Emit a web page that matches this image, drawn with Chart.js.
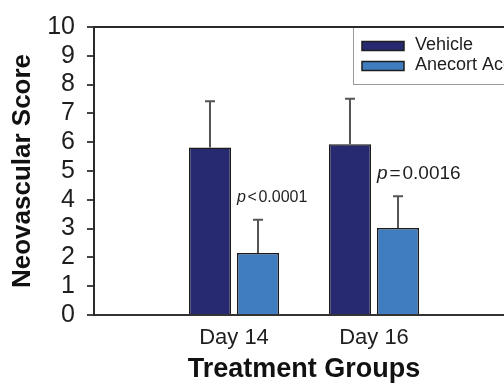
<!DOCTYPE html>
<html>
<head>
<meta charset="utf-8">
<script src="https://cdn.jsdelivr.net/npm/chart.js@4/dist/chart.umd.min.js"></script>
<style>
  html, body { margin: 0; padding: 0; background: #fff; overflow: hidden; }
  #wrap { width: 504px; height: 386px; overflow: hidden; }
  canvas { display: block; }
</style>
</head>
<body>
<div id="wrap"><canvas id="chart" width="530" height="386" style="width:530px;height:386px"></canvas></div>
<script>
// Groups on the x axis
const categories = ['Day 14', 'Day 16'];

// Mean neovascular scores and upper error (SD) per group
const vehicle = [5.82, 5.93];
const vehicleErr = [1.60, 1.58];
const anecort = [2.15, 3.02];
const anecortErr = [1.16, 1.10];

// Significance of Anecort vs Vehicle per group
const pOps = ['<', '='];
const pValues = ['0.0001', '0.0016'];
const pFontSizes = [16, 19];

// Y axis
const yTicks = [0, 1, 2, 3, 4, 5, 6, 7, 8, 9, 10];

const FONT = '"Liberation Sans", Arial, Helvetica, sans-serif';
Chart.defaults.font.family = FONT;
Chart.defaults.color = '#1e1e1e';

// blank slots on both sides of the two groups
const pad = arr => [null, ...arr, null];
const labels = ['', ...categories, ''];

const errorBars = {
  id: 'errorBars',
  afterDatasetsDraw(chart) {
    const ctx = chart.ctx;
    const y = chart.scales.y;
    ctx.save();
    chart.data.datasets.forEach((ds, di) => {
      const meta = chart.getDatasetMeta(di);
      meta.data.forEach((bar, i) => {
        const v = ds.data[i];
        const e = ds.errors[i];
        if (v == null || e == null) return;
        const top = y.getPixelForValue(v + e);
        ctx.strokeStyle = '#555';
        ctx.lineWidth = 2;
        ctx.beginPath();
        ctx.moveTo(bar.x, bar.y);
        ctx.lineTo(bar.x, top);
        ctx.moveTo(bar.x - 5, top);
        ctx.lineTo(bar.x + 5, top);
        ctx.stroke();
      });
    });
    ctx.restore();
  }
};

const pLabels = {
  id: 'pLabels',
  afterDatasetsDraw(chart) {
    const ctx = chart.ctx;
    const y = chart.scales.y;
    const ds = chart.data.datasets[1];
    const meta = chart.getDatasetMeta(1);
    ctx.save();
    ctx.fillStyle = '#1e1e1e';
    ctx.textBaseline = 'middle';
    ctx.textAlign = 'left';
    meta.data.forEach((bar, i) => {
      const k = i - 1;
      if (k < 0 || k >= pValues.length) return;
      const top = y.getPixelForValue(ds.data[i] + ds.errors[i]);
      const size = pFontSizes[k];
      let x = bar.x - bar.width / 2;
      const ty = top - 22.5;
      ctx.font = 'italic ' + size + 'px ' + FONT;
      ctx.fillText('p', x, ty);
      x += ctx.measureText('p').width + size * 0.1;
      ctx.font = size + 'px ' + FONT;
      ctx.fillText(pOps[k], x, ty);
      x += ctx.measureText(pOps[k]).width + size * 0.1;
      ctx.fillText(pValues[k], x, ty);
    });
    ctx.restore();
  }
};

const frame = {
  id: 'frame',
  afterDraw(chart) {
    const ctx = chart.ctx;
    const a = chart.chartArea;
    const y = chart.scales.y;
    const top = y.getPixelForValue(10);

    // legend box
    ctx.save();
    const lx = 353, ly = top, lw = 200, lh = 57;
    ctx.fillStyle = '#fff';
    ctx.fillRect(lx, ly, lw, lh);
    ctx.strokeStyle = '#9a9a9a';
    ctx.lineWidth = 1;
    ctx.strokeRect(lx + 0.5, ly + 0.5, lw, lh);
    chart.data.datasets.forEach((ds, i) => {
      const cy = ly + 19 + i * 20;
      ctx.fillStyle = ds.backgroundColor;
      ctx.fillRect(362, cy - 4.5, 42, 9);
      ctx.strokeStyle = '#1e1e1e';
      ctx.lineWidth = 1.5;
      ctx.strokeRect(362, cy - 4.5, 42, 9);
      ctx.fillStyle = '#1e1e1e';
      ctx.font = '18px ' + FONT;
      ctx.textBaseline = 'middle';
      ctx.textAlign = 'left';
      ctx.fillText(ds.label, 415, cy - 1);
    });

    // top frame line
    ctx.strokeStyle = '#2a2a2a';
    ctx.lineWidth = 2;
    ctx.beginPath();
    ctx.moveTo(a.left, top);
    ctx.lineTo(a.right, top);
    ctx.stroke();
    ctx.restore();
  }
};

new Chart(document.getElementById('chart'), {
  type: 'bar',
  data: {
    labels: labels,
    datasets: [
      {
        label: 'Vehicle',
        data: pad(vehicle),
        errors: pad(vehicleErr),
        backgroundColor: '#272a70',
        borderColor: '#1a1a1a',
        borderWidth: 1.5,
        categoryPercentage: 0.686,
        barPercentage: 0.875
      },
      {
        label: 'Anecort Acetate',
        data: pad(anecort),
        errors: pad(anecortErr),
        backgroundColor: '#3f7cc0',
        borderColor: '#1a1a1a',
        borderWidth: 1.5,
        categoryPercentage: 0.686,
        barPercentage: 0.875
      }
    ]
  },
  options: {
    responsive: false,
    devicePixelRatio: 1,
    animation: false,
    layout: { padding: { top: 20, right: 16, bottom: 0, left: 0 } },
    plugins: {
      legend: { display: false },
      tooltip: { enabled: false }
    },
    scales: {
      x: {
        type: 'category',
        offset: false,
        grid: { display: true, drawOnChartArea: false, drawTicks: false },
        border: { display: true, color: '#333', width: 2 },
        ticks: {
          font: { size: 22 },
          color: '#1e1e1e',
          padding: 10,
          maxRotation: 0,
          autoSkip: false
        },
        title: {
          display: true,
          text: 'Treatment Groups',
          font: { size: 27, weight: 'bold' },
          color: '#111',
          padding: { top: 0, bottom: 0 }
        },
        afterFit(scale) { scale.height = 71; }
      },
      y: {
        min: 0,
        max: 10,
        afterBuildTicks(scale) { scale.ticks = yTicks.map(v => ({ value: v })); },
        grid: {
          drawOnChartArea: false,
          drawTicks: true,
          tickLength: 7,
          color: '#444',
          lineWidth: 2
        },
        border: { display: true, color: '#2a2a2a', width: 2 },
        ticks: {
          font: { size: 25 },
          color: '#1e1e1e',
          padding: 12,
          autoSkip: false
        },
        title: {
          display: true,
          text: 'Neovascular Score',
          font: { size: 26, weight: 'bold' },
          color: '#111',
          padding: { top: 7, bottom: 0 }
        },
        afterFit(scale) { scale.width = 94; }
      }
    }
  },
  plugins: [errorBars, pLabels, frame]
});
</script>
</body>
</html>
